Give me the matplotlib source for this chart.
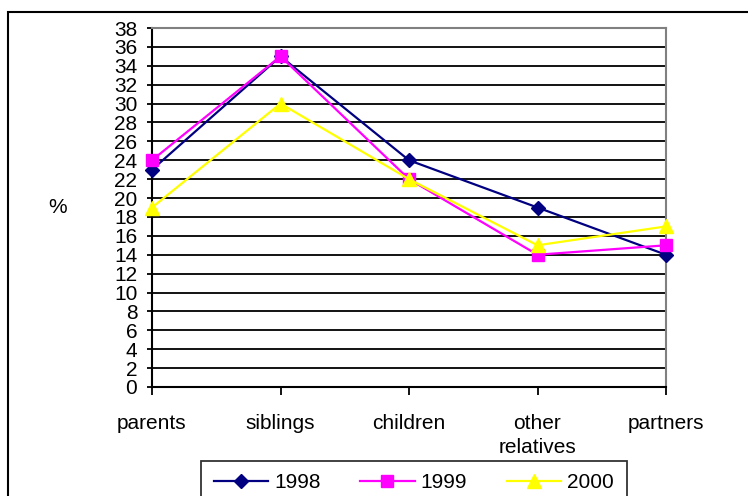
import matplotlib
matplotlib.use('Agg')
import matplotlib.pyplot as plt
from matplotlib.patches import Rectangle

plt.rcParams['font.family'] = ['Liberation Sans', 'DejaVu Sans']

categories = ['parents', 'siblings', 'children', 'other\nrelatives', 'partners']
years = ['1998', '1999', '2000']
share_1998 = [23, 35, 24, 19, 14]
share_1999 = [24, 35, 22, 14, 15]
share_2000 = [19, 30, 22, 15, 17]

W, H = 748, 496
fig = plt.figure(figsize=(W / 100, H / 100), dpi=100)
fig.patch.set_facecolor('white')

# chart border (runs off the right and bottom edge)
fig.patches.append(Rectangle((8 / W, -0.05), 1.0, 1 - 12 / H + 0.05,
                             transform=fig.transFigure, fill=False,
                             edgecolor='black', linewidth=1.5))

ax = fig.add_axes([152 / W, 1 - 387 / H, (666 - 152) / W, (387 - 28) / H])

x = list(range(len(categories)))
styles = [
    (share_1998, '#000080', 'D', 7.5),
    (share_1999, '#FF00FF', 's', 9),
    (share_2000, '#FFFF00', '^', 9.5),
]
for (vals, col, mk, ms), yr in zip(styles, years):
    ax.plot(x, vals, color=col, marker=mk, markersize=ms, linewidth=1.6,
            markerfacecolor=col, markeredgecolor=col, label=yr,
            clip_on=False, zorder=3)

ax.set_xlim(0, 4)
ax.set_ylim(0, 38)
ax.set_yticks(range(0, 39, 2))
ax.set_xticks(x)
ax.set_xticklabels(categories, linespacing=1.3)
ax.yaxis.grid(True, color='black', linewidth=1.3)
ax.set_axisbelow(True)

ax.tick_params(axis='y', direction='out', length=3.6, width=1.3, pad=7,
               labelsize=15, colors='black')
ax.tick_params(axis='x', direction='out', length=6, width=1.3, pad=13.5,
               labelsize=15, colors='black')

for side in ['left', 'bottom']:
    ax.spines[side].set_color('black')
    ax.spines[side].set_linewidth(1.5)
for side in ['top', 'right']:
    ax.spines[side].set_color('#808080')
    ax.spines[side].set_linewidth(1.5)

ax.set_ylabel('%', rotation=0, fontsize=15, va='center', ha='center')
ax.yaxis.set_label_coords((58 - 152) / 514, 0.5)

leg = fig.legend(loc='center', bbox_to_anchor=(414 / W, 1 - 483 / H), ncol=3,
                 fontsize=15, frameon=True, fancybox=False, edgecolor='black',
                 handlelength=2.6, handletextpad=0.3, columnspacing=1.9,
                 borderpad=0.6, borderaxespad=0)
leg.get_frame().set_linewidth(1.3)

fig.savefig('out.png', dpi=100)
